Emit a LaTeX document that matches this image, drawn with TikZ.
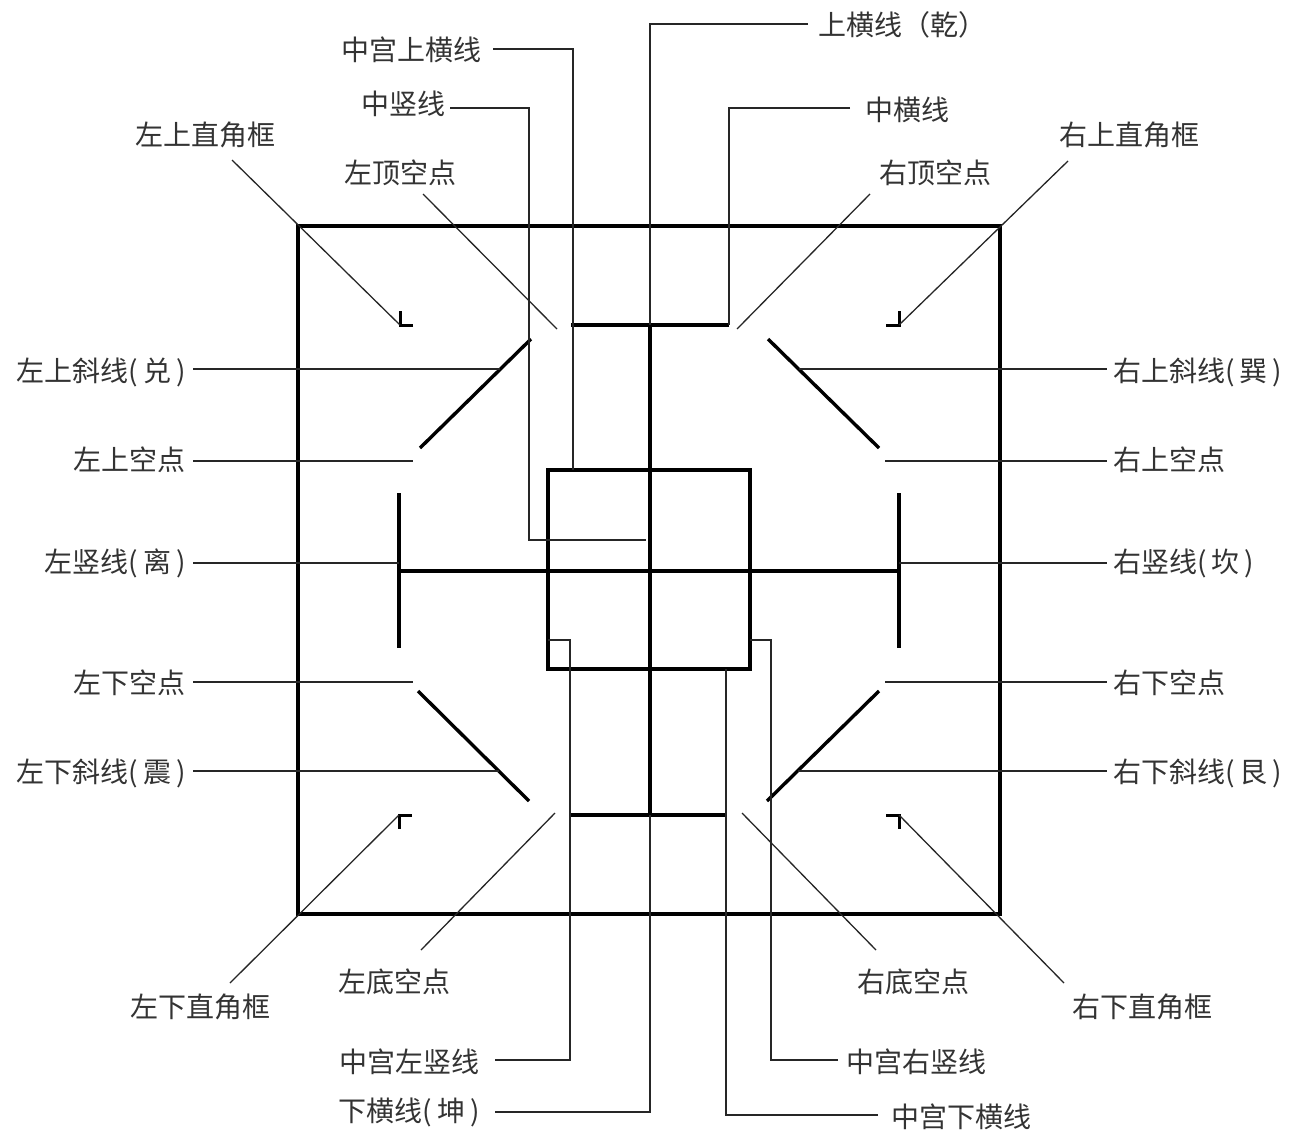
\documentclass[tikz,border=0pt]{standalone}
\usepackage{fontspec}
\newfontfamily\cjk{Noto Sans CJK SC}
\begin{document}
\begin{tikzpicture}[x=1pt,y=-1pt,
  lbl/.style={font=\cjk\fontsize{28}{30}\selectfont, inner sep=0pt, text=black!80},
  frame/.style={line width=4.8pt, line join=miter},
  bar/.style={line width=3.4pt},
  lead/.style={line width=1.3pt, black!85},
  brk/.style={line width=3pt}]
\useasboundingbox (0,0) rectangle (1289,1135);
% ---------- key points ----------
\coordinate (ob1) at (298,226); \coordinate (ob2) at (1000,914);
\coordinate (ib1) at (548,470); \coordinate (ib2) at (750,669);
\coordinate (ct) at (650,325); \coordinate (cb) at (650,815);
\coordinate (th1) at (571,325); \coordinate (th2) at (729,325);
\coordinate (bh1) at (570,815); \coordinate (bh2) at (726,815);
\coordinate (mh1) at (399,571); \coordinate (mh2) at (899,571);
\coordinate (lv1) at (399,493); \coordinate (lv2) at (399,648);
\coordinate (rv1) at (899,493); \coordinate (rv2) at (899,648);
\coordinate (ul1) at (420,448); \coordinate (ul2) at (531,339);
\coordinate (ur1) at (768,339); \coordinate (ur2) at (879,448);
\coordinate (ll1) at (418,691); \coordinate (ll2) at (529,801);
\coordinate (lr1) at (767,801); \coordinate (lr2) at (879,691);
\coordinate (ctl) at (400,325); \coordinate (ctr) at (899,325);
\coordinate (cbl) at (399,815); \coordinate (cbr) at (899,815);
% ---------- main figure ----------
\draw[frame] (ob1) rectangle (ob2);
\draw[bar] (ib1) rectangle (ib2);
\draw[bar] (ct) -- (cb);
\draw[bar] (th1) -- (th2);
\draw[bar] (bh1) -- (bh2);
\draw[bar] (mh1) -- (mh2);
\draw[bar] (lv1) -- (lv2);
\draw[bar] (rv1) -- (rv2);
\draw[bar] (ul1) -- (ul2);
\draw[bar] (ur1) -- (ur2);
\draw[bar] (ll1) -- (ll2);
\draw[bar] (lr1) -- (lr2);
\draw[brk] ([xshift=13]ctl) -- (ctl) -- ([yshift=14]ctl);
\draw[brk] ([xshift=-13]ctr) -- (ctr) -- ([yshift=14]ctr);
\draw[brk] ([xshift=13]cbl) -- (cbl) -- ([yshift=-14]cbl);
\draw[brk] ([xshift=-13]cbr) -- (cbr) -- ([yshift=-14]cbr);
% ---------- labels ----------
\node[lbl] (zsj) at (205,135) {左上直角框};
\node[lbl,anchor=east] (zgs) at (482,50) {中宫上横线};
\node[lbl,anchor=east] (zsx) at (446,104) {中竖线};
\node[lbl] (zdk) at (400,173) {左顶空点};
\node[lbl,anchor=west] (shx) at (818,25) {上横线（乾）};
\node[lbl,anchor=west] (zhx) at (865,110) {中横线};
\node[lbl] (ydk) at (935,173) {右顶空点};
\node[lbl] (ysj) at (1129,135) {右上直角框};
\node[lbl,anchor=east] (zsxd) at (186,372) {左上斜线(\hspace{5pt}兑\hspace{5pt})};
\node[lbl,anchor=east] (zsk) at (186,460) {左上空点};
\node[lbl,anchor=east] (zshu) at (186,563) {左竖线(\hspace{5pt}离\hspace{5pt})};
\node[lbl,anchor=east] (zxk) at (186,683) {左下空点};
\node[lbl,anchor=east] (zxxd) at (186,773) {左下斜线(\hspace{5pt}震\hspace{5pt})};
\node[lbl,anchor=west] (ysxd) at (1113,372) {右上斜线(\hspace{5pt}巽\hspace{5pt})};
\node[lbl,anchor=west] (ysk) at (1113,460) {右上空点};
\node[lbl,anchor=west] (yshu) at (1113,563) {右竖线(\hspace{5pt}坎\hspace{5pt})};
\node[lbl,anchor=west] (yxk) at (1113,683) {右下空点};
\node[lbl,anchor=west] (yxxd) at (1113,773) {右下斜线(\hspace{5pt}艮\hspace{5pt})};
\node[lbl] (zxj) at (200,1007) {左下直角框};
\node[lbl] (zdi) at (394,982) {左底空点};
\node[lbl] (ydi) at (913,982) {右底空点};
\node[lbl] (yxj) at (1142,1007) {右下直角框};
\node[lbl,anchor=east] (zgz) at (480,1062) {中宫左竖线};
\node[lbl,anchor=east] (xhx) at (480,1112) {下横线(\hspace{5pt}坤\hspace{5pt})};
\node[lbl,anchor=west] (zgy) at (846,1062) {中宫右竖线};
\node[lbl,anchor=west] (zgx) at (891,1117) {中宫下横线};
% ---------- leader start points ----------
\coordinate (s-zgs) at (493,49);
\coordinate (s-zsx) at (450,108);
\coordinate (s-shx) at (808,24);
\coordinate (s-zhx) at (850,108);
\coordinate (s-zsj) at (232,160);
\coordinate (s-ysj) at (1068,161);
\coordinate (s-zdk) at (423,194);
\coordinate (s-ydk) at (870,194);
\coordinate (s-zxj) at (230,983);
\coordinate (s-yxj) at (1064,983);
\coordinate (s-zdi) at (421,950);
\coordinate (s-ydi) at (876,950);
\coordinate (s-zgz) at (495,1060);
\coordinate (s-xhx) at (495,1112);
\coordinate (s-zgy) at (838,1060);
\coordinate (s-zgx) at (878,1115);
% ---------- leaders ----------
\draw[lead] (s-zgs) -| (573,470);
\draw[lead] (s-zsx) -| (529,540) -- (646,540);
\draw[lead] (s-shx) -| (ct);
\draw[lead] (s-zhx) -| (th2);
\draw[lead] (s-zsj) -- (ctl);
\draw[lead] (s-ysj) -- (ctr);
\draw[lead] (s-zdk) -- (557,329);
\draw[lead] (s-ydk) -- (737,329);
\draw[lead] (193,369) -- (500,369);
\draw[lead] (799,369) -- (1107,369);
\draw[lead] (193,461) -- (413,461);
\draw[lead] (885,461) -- (1107,461);
\draw[lead] (193,563) -- (399,563);
\draw[lead] (899,563) -- (1107,563);
\draw[lead] (193,682) -- (413,682);
\draw[lead] (885,682) -- (1107,682);
\draw[lead] (193,771) -- (499,771);
\draw[lead] (798,771) -- (1107,771);
\draw[lead] (s-zxj) -- (cbl);
\draw[lead] (s-yxj) -- (cbr);
\draw[lead] (s-zdi) -- (555,813);
\draw[lead] (s-ydi) -- (742,813);
\draw[lead] (s-zgz) -| (570,640) -- (548,640);
\draw[lead] (s-xhx) -| (cb);
\draw[lead] (s-zgy) -| (771,640) -- (750,640);
\draw[lead] (s-zgx) -| (726,669);
\end{tikzpicture}
\end{document}
